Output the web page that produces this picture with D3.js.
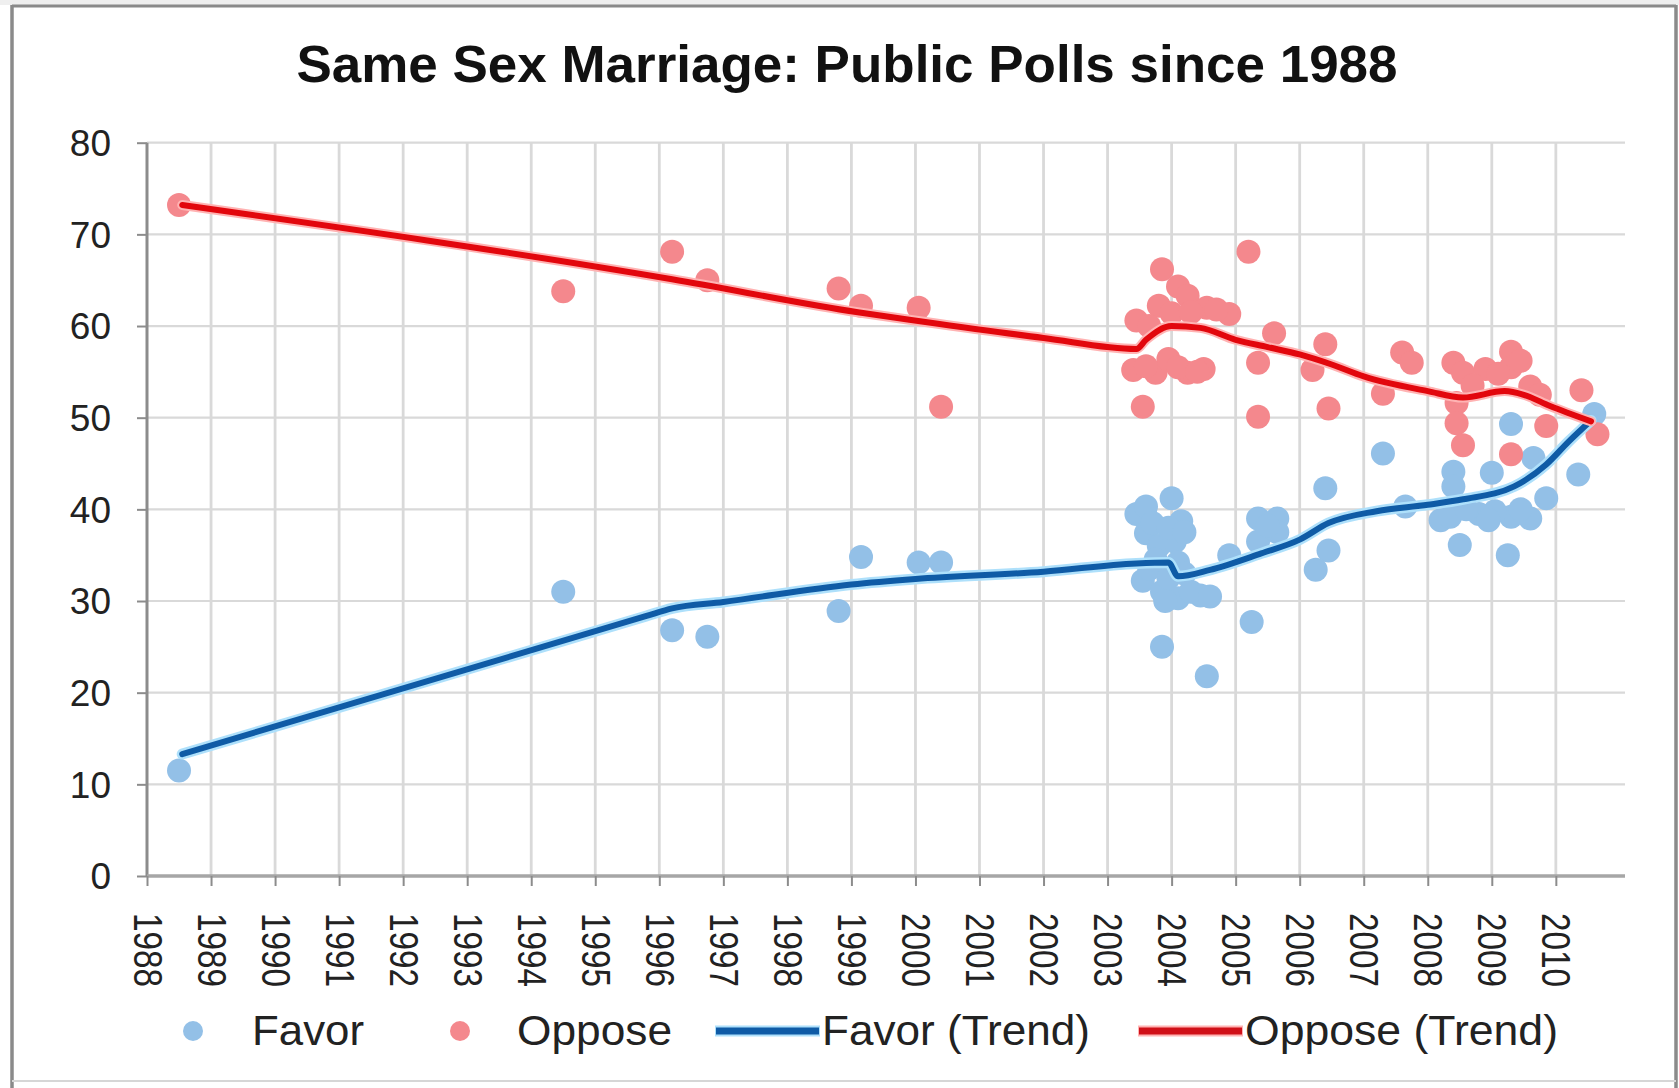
<!DOCTYPE html>
<html>
<head>
<meta charset="utf-8">
<script src="https://cdn.jsdelivr.net/npm/d3@7/dist/d3.min.js"></script>
<style>
  html, body { margin: 0; padding: 0; background: #fff; }
  svg { display: block; }
  text { font-family: "Liberation Sans", Arial, sans-serif; }
</style>
</head>
<body>
<svg id="chart" width="1679" height="1088"></svg>
<script>
// ---------------- DATA ----------------
const titleText = "Same Sex Marriage: Public Polls since 1988";
const yearLabels = ["1988","1989","1990","1991","1992","1993","1994","1995","1996","1997","1998","1999",
                    "2000","2001","2002","2003","2004","2005","2006","2007","2008","2009","2010"];
const valueTicks = [0, 10, 20, 30, 40, 50, 60, 70, 80];

// [decimal year, percent]
const favorPoints = [
  [1988.5, 11.5], [1994.5, 31.0], [1996.2, 26.8], [1996.75, 26.1], [1998.8, 28.9],
  [1999.15, 34.8], [2000.05, 34.2], [2000.4, 34.2],
  [2003.45, 39.5], [2003.6, 40.3], [2004.0, 41.2], [2004.15, 38.7], [2003.6, 37.4],
  [2003.8, 36.0], [2004.05, 36.5], [2004.1, 34.2], [2003.55, 32.2], [2003.85, 31.0],
  [2004.1, 30.3], [2004.45, 30.6], [2003.9, 30.0], [2004.2, 33.0], [2004.9, 35.0],
  [2003.7, 38.5], [2003.95, 38.0], [2004.2, 37.5], [2003.65, 33.5], [2003.95, 32.5],
  [2004.3, 31.0], [2004.6, 30.5], [2003.75, 34.5],
  [2005.35, 39.0], [2005.65, 39.0], [2005.35, 36.5], [2005.65, 37.5], [2005.5, 38.2], [2006.4, 42.3],
  [2006.45, 35.5], [2006.25, 33.4], [2005.25, 27.7], [2003.85, 25.0], [2004.55, 21.8],
  [2007.3, 46.1], [2007.65, 40.3], [2008.2, 38.8], [2008.4, 44.1], [2008.4, 42.5],
  [2008.35, 39.2], [2008.5, 36.1], [2008.8, 39.5], [2009.0, 44.0], [2009.3, 49.3],
  [2009.3, 39.2], [2009.25, 35.0], [2009.65, 45.6], [2009.85, 41.2], [2009.6, 39.0],
  [2008.6, 40.0], [2009.05, 39.8], [2009.45, 40.0], [2008.95, 38.8],
  [2010.35, 43.8], [2010.6, 50.4]
];
const opposePoints = [
  [1988.5, 73.2], [1994.5, 63.8], [1996.2, 68.1], [1996.75, 65.0], [1998.8, 64.1],
  [1999.15, 62.2], [2000.05, 62.0], [2000.4, 51.2],
  [2003.45, 60.6], [2003.85, 66.2], [2004.1, 64.3], [2004.25, 63.3], [2003.8, 62.2],
  [2004.0, 61.4], [2004.55, 62.0], [2004.9, 61.3], [2005.2, 68.1], [2005.6, 59.2],
  [2003.65, 60.0], [2004.3, 61.5], [2004.7, 61.8],
  [2003.4, 55.2], [2003.75, 54.9], [2003.95, 56.4], [2004.25, 54.9], [2004.5, 55.3],
  [2004.1, 55.5], [2004.4, 55.0], [2003.6, 55.6],
  [2003.55, 51.2], [2005.35, 56.0], [2005.35, 50.1], [2006.4, 58.0], [2006.2, 55.2],
  [2006.45, 51.0], [2007.3, 52.6], [2007.6, 57.1], [2007.75, 56.0], [2008.4, 56.0],
  [2008.55, 54.9], [2008.9, 55.3], [2009.3, 57.2], [2009.3, 55.5], [2009.6, 53.4],
  [2008.7, 53.5], [2009.1, 54.8], [2009.45, 56.2], [2009.75, 52.5],
  [2008.45, 51.6], [2008.45, 49.4], [2008.55, 47.0], [2009.3, 46.0], [2009.85, 49.1],
  [2010.4, 53.0], [2010.65, 48.2]
];
const favorTrend = [
  [1988.55, 13.3], [1995.8, 28.37], [1996.2, 29.2], [1997.0, 29.9], [1999.0, 31.8], [2000.0, 32.4],
  [2002.0, 33.2], [2003.45, 34.1], [2003.95, 34.2], [2004.1, 32.7], [2004.6, 33.4],
  [2005.4, 35.2], [2006.0, 36.7], [2006.45, 38.5], [2007.2, 39.8], [2008.0, 40.5],
  [2008.55, 41.1], [2009.35, 42.5], [2009.85, 44.9], [2010.2, 47.4], [2010.55, 49.7]
];
const opposeTrend = [
  [1988.55, 73.2], [1996.2, 65.1], [1999.1, 61.5], [2000.1, 60.5], [2002.0, 58.7],
  [2003.45, 57.5], [2003.6, 58.5], [2004.0, 60.0], [2004.45, 59.8], [2005.0, 58.5],
  [2005.5, 57.7], [2006.0, 56.9], [2006.5, 55.8], [2007.0, 54.5], [2008.0, 52.9],
  [2008.55, 52.2], [2009.2, 52.9], [2009.5, 52.5], [2009.9, 51.3], [2010.55, 49.6]
];
const legendLabels = ["Favor", "Oppose", "Favor (Trend)", "Oppose (Trend)"];

// ---------------- LAYOUT ----------------
const svg = d3.select("#chart");
const X0 = 147, X1 = 1625, Y0 = 876, Y1 = 142.7;
const x = d3.scaleLinear().domain([1988, 2011.08]).range([X0, X1]);
const y = d3.scaleLinear().domain([0, 80]).range([Y0, Y1]);

const favorColor = "#93c0e7", opposeColor = "#f4888d";
const favorLine = "#0f5ba6", opposeLine = "#e2070d";

// outer frame
svg.append("rect").attr("x", 0).attr("y", 0).attr("width", 1679).attr("height", 5).attr("fill", "#efefef");
svg.append("line").attr("x1", 12).attr("x2", 1676).attr("y1", 6).attr("y2", 6).attr("stroke", "#8a8a8a").attr("stroke-width", 3);
svg.append("line").attr("x1", 12).attr("x2", 12).attr("y1", 5).attr("y2", 1088).attr("stroke", "#8a8a8a").attr("stroke-width", 3.5);
svg.append("line").attr("x1", 1676).attr("x2", 1676).attr("y1", 5).attr("y2", 1088).attr("stroke", "#8a8a8a").attr("stroke-width", 3.5);
svg.append("line").attr("x1", 12).attr("x2", 1676).attr("y1", 1081).attr("y2", 1081).attr("stroke", "#d6d6d6").attr("stroke-width", 2);

// title
svg.append("text").attr("x", 847).attr("y", 82).attr("text-anchor", "middle")
  .attr("font-size", 52).attr("font-weight", "bold").attr("fill", "#111")
  .attr("textLength", 1101).attr("lengthAdjust", "spacingAndGlyphs")
  .text(titleText);

// grid
const grid = svg.append("g");
grid.selectAll("line.h").data(valueTicks.filter(v => v > 0)).join("line")
  .attr("x1", X0).attr("x2", X1).attr("y1", d => y(d)).attr("y2", d => y(d))
  .attr("stroke", "#d9d9d9").attr("stroke-width", 2.2);
grid.selectAll("line.v").data(yearLabels.slice(1)).join("line")
  .attr("x1", d => x(+d)).attr("x2", d => x(+d)).attr("y1", Y1).attr("y2", Y0)
  .attr("stroke", "#d9d9d9").attr("stroke-width", 2.8);

// axes
const yAxis = d3.axisLeft(y).tickValues(valueTicks).tickSize(10).tickPadding(26).tickFormat(d3.format("d"));
const yg = svg.append("g").attr("transform", `translate(${X0},0)`).call(yAxis);
yg.select(".domain").attr("stroke", "#8c8c8c").attr("stroke-width", 3).attr("d", `M0,${Y1}V${Y0}`);
yg.selectAll(".tick line").attr("stroke", "#8c8c8c").attr("stroke-width", 2);
yg.selectAll(".tick text").attr("font-size", 37).attr("fill", "#222")
  .attr("font-family", "Liberation Sans, Arial, sans-serif").attr("dy", "0.35em");

const xAxis = d3.axisBottom(x).tickValues(yearLabels.map(Number)).tickSize(10).tickFormat(d3.format("d"));
const xg = svg.append("g").attr("transform", `translate(0,${Y0})`).call(xAxis);
xg.select(".domain").attr("stroke", "#a6a6a6").attr("stroke-width", 3.5).attr("d", `M${X0},0H${X1}`);
xg.selectAll(".tick line").attr("stroke", "#8c8c8c").attr("stroke-width", 2);
xg.selectAll(".tick text")
  .attr("font-size", 40).attr("fill", "#222").attr("font-family", "Liberation Sans, Arial, sans-serif")
  .attr("text-anchor", "start").attr("x", 0).attr("y", 0)
  .attr("transform", "translate(0,37) rotate(90)")
  .attr("dy", "0.35em").attr("dx", 0)
  .attr("textLength", 74).attr("lengthAdjust", "spacingAndGlyphs");

// points
const pts = svg.append("g");
pts.append("g").selectAll("circle").data(favorPoints).join("circle")
  .attr("cx", d => x(d[0])).attr("cy", d => y(d[1])).attr("r", 12).attr("fill", favorColor);
pts.append("g").selectAll("circle").data(opposePoints).join("circle")
  .attr("cx", d => x(d[0])).attr("cy", d => y(d[1])).attr("r", 12).attr("fill", opposeColor);

// trend lines
const line = d3.line().x(d => x(d[0])).y(d => y(d[1])).curve(d3.curveMonotoneX);
const lines = svg.append("g").attr("fill", "none").attr("stroke-linejoin", "round").attr("stroke-linecap", "round");
lines.append("path").datum(favorTrend).attr("d", line).attr("stroke", "#aee0fb").attr("stroke-width", 11);
lines.append("path").datum(favorTrend).attr("d", line).attr("stroke", favorLine).attr("stroke-width", 6);
lines.append("path").datum(opposeTrend).attr("d", line).attr("stroke", "#ffb3b3").attr("stroke-width", 10);
lines.append("path").datum(opposeTrend).attr("d", line).attr("stroke", opposeLine).attr("stroke-width", 6);

// legend
const lg = svg.append("g").attr("font-size", 42).attr("fill", "#222");
const LY = 1031, LB = 1045;
lg.append("circle").attr("cx", 193).attr("cy", LY).attr("r", 10).attr("fill", favorColor);
lg.append("text").attr("x", 252).attr("y", LB).attr("textLength", 112).attr("lengthAdjust", "spacingAndGlyphs").text(legendLabels[0]);
lg.append("circle").attr("cx", 460).attr("cy", LY).attr("r", 10).attr("fill", opposeColor);
lg.append("text").attr("x", 517).attr("y", LB).attr("textLength", 155).attr("lengthAdjust", "spacingAndGlyphs").text(legendLabels[1]);
lg.append("line").attr("x1", 715).attr("x2", 820).attr("y1", LY).attr("y2", LY).attr("stroke", "#aee0fb").attr("stroke-width", 11);
lg.append("line").attr("x1", 716).attr("x2", 819).attr("y1", LY).attr("y2", LY).attr("stroke", favorLine).attr("stroke-width", 7);
lg.append("text").attr("x", 822).attr("y", LB).attr("textLength", 268).attr("lengthAdjust", "spacingAndGlyphs").text(legendLabels[2]);
lg.append("line").attr("x1", 1138).attr("x2", 1243).attr("y1", LY).attr("y2", LY).attr("stroke", "#ffb3b3").attr("stroke-width", 11);
lg.append("line").attr("x1", 1139).attr("x2", 1242).attr("y1", LY).attr("y2", LY).attr("stroke", "#d01018").attr("stroke-width", 7);
lg.append("text").attr("x", 1245).attr("y", LB).attr("textLength", 313).attr("lengthAdjust", "spacingAndGlyphs").text(legendLabels[3]);
</script>
</body>
</html>
